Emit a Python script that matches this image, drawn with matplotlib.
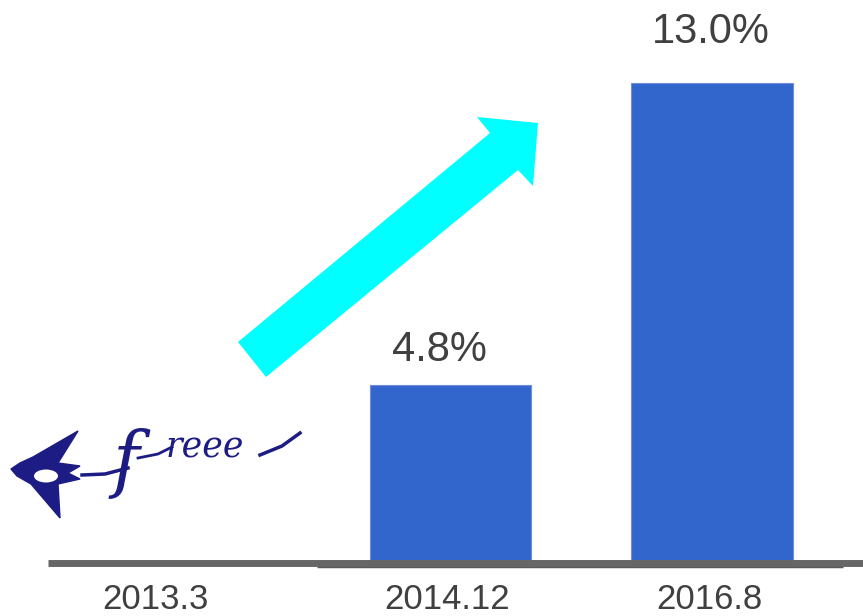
import matplotlib
matplotlib.use("Agg")
import matplotlib.pyplot as plt
from matplotlib.patches import Polygon, Ellipse
from matplotlib.lines import Line2D
from matplotlib.transforms import ScaledTranslation

# data
periods = ['2013.3', '2014.12', '2016.8']
share = [0, 4.8, 13.0]          # %
share_labels = ['', '4.8%', '13.0%']

W, H = 863, 616
BAR_COLOR = '#3366CC'
TEXT_COLOR = '#404040'
NAVY = '#1C1C84'

plt.rcParams['font.family'] = ['Liberation Sans', 'DejaVu Sans']

fig = plt.figure(figsize=(W / 100, H / 100), dpi=100)
ax = fig.add_axes([0, 0, 1, 1])
ax.set_xlim(-0.7228, 2.5774)
ax.set_ylim(-1.4655, 15.251)
ax.axis('off')

x = list(range(len(periods)))
bars = ax.bar(x[1:], share[1:], width=0.616, color=BAR_COLOR,
              edgecolor='#6f8fdc', linewidth=0.8, zorder=2)

# value labels above the bars
for xi, v, lab in zip(x, share, share_labels):
    if not lab:
        continue
    if v > 10:
        off = (-1, 22)
    else:
        off = (-8, 11)
    ax.annotate(lab, (xi, v), xytext=off, textcoords='offset points',
                ha='center', va='bottom', fontsize=30, color=TEXT_COLOR)

# category labels under the baseline
for xi, lab in zip(x, periods):
    t = ax.text(xi, -1.02, lab, ha='center', va='center', fontsize=25,
                color=TEXT_COLOR)
    if xi == 0:
        t.set_transform(ax.transData + ScaledTranslation(-0.34, 0, fig.dpi_scale_trans))
    else:
        t.set_transform(ax.transData + ScaledTranslation(-0.03, 0, fig.dpi_scale_trans))


def px(xp, yp):
    return (xp / W, 1 - yp / H)


# baseline
fig.add_artist(Line2D([48 / W, 1], [1 - 562.5 / H] * 2, color='#666666',
                      linewidth=5, solid_capstyle='butt', zorder=3))
fig.add_artist(Line2D([317 / W, 843 / W], [1 - 565.5 / H] * 2, color='#5a5a5a',
                      linewidth=2.5, solid_capstyle='butt', zorder=2))

# cyan arrow
arrow_pts = [(238, 342), (490, 133), (477, 117), (538, 123),
             (533, 186), (518, 170), (266, 377)]
fig.add_artist(Polygon([px(*p) for p in arrow_pts], closed=True,
                       facecolor='#00FFFF', edgecolor='none',
                       transform=fig.transFigure, zorder=4))

# freee logo (rough)
bird = [(11, 469), (20, 463), (33, 457), (78, 431), (58, 463), (80, 466),
        (68, 473), (80, 479), (58, 484), (60, 518), (31, 484), (17, 476)]
fig.add_artist(Polygon([px(*p) for p in bird], closed=True, facecolor=NAVY,
                       edgecolor=NAVY, transform=fig.transFigure, zorder=4))
fig.add_artist(Ellipse(px(46, 476), 24 / W, 13 / H, facecolor='white',
                       edgecolor='none', transform=fig.transFigure, zorder=5))
sx, sy = zip(*[px(82, 475), px(105, 474), px(128, 468)])
fig.add_artist(Line2D(sx, sy, color=NAVY, linewidth=2.5, zorder=4))
fig.text(*px(112, 484), 'f', fontsize=52, fontstyle='italic',
         family=['DejaVu Serif'], color=NAVY, ha='left', va='baseline')
cx, cy = zip(*[px(138, 458), px(158, 454), px(172, 447)])
fig.add_artist(Line2D(cx, cy, color=NAVY, linewidth=2, zorder=4))
fig.text(*px(166, 457), 'reee', fontsize=25, fontstyle='italic',
         family=['DejaVu Serif'], color=NAVY, ha='left', va='baseline')
tx, ty = zip(*[px(260, 455), px(282, 446), px(300, 433)])
fig.add_artist(Line2D(tx, ty, color=NAVY, linewidth=2.5, zorder=4))

fig.savefig('out.png', dpi=100, facecolor='white')
